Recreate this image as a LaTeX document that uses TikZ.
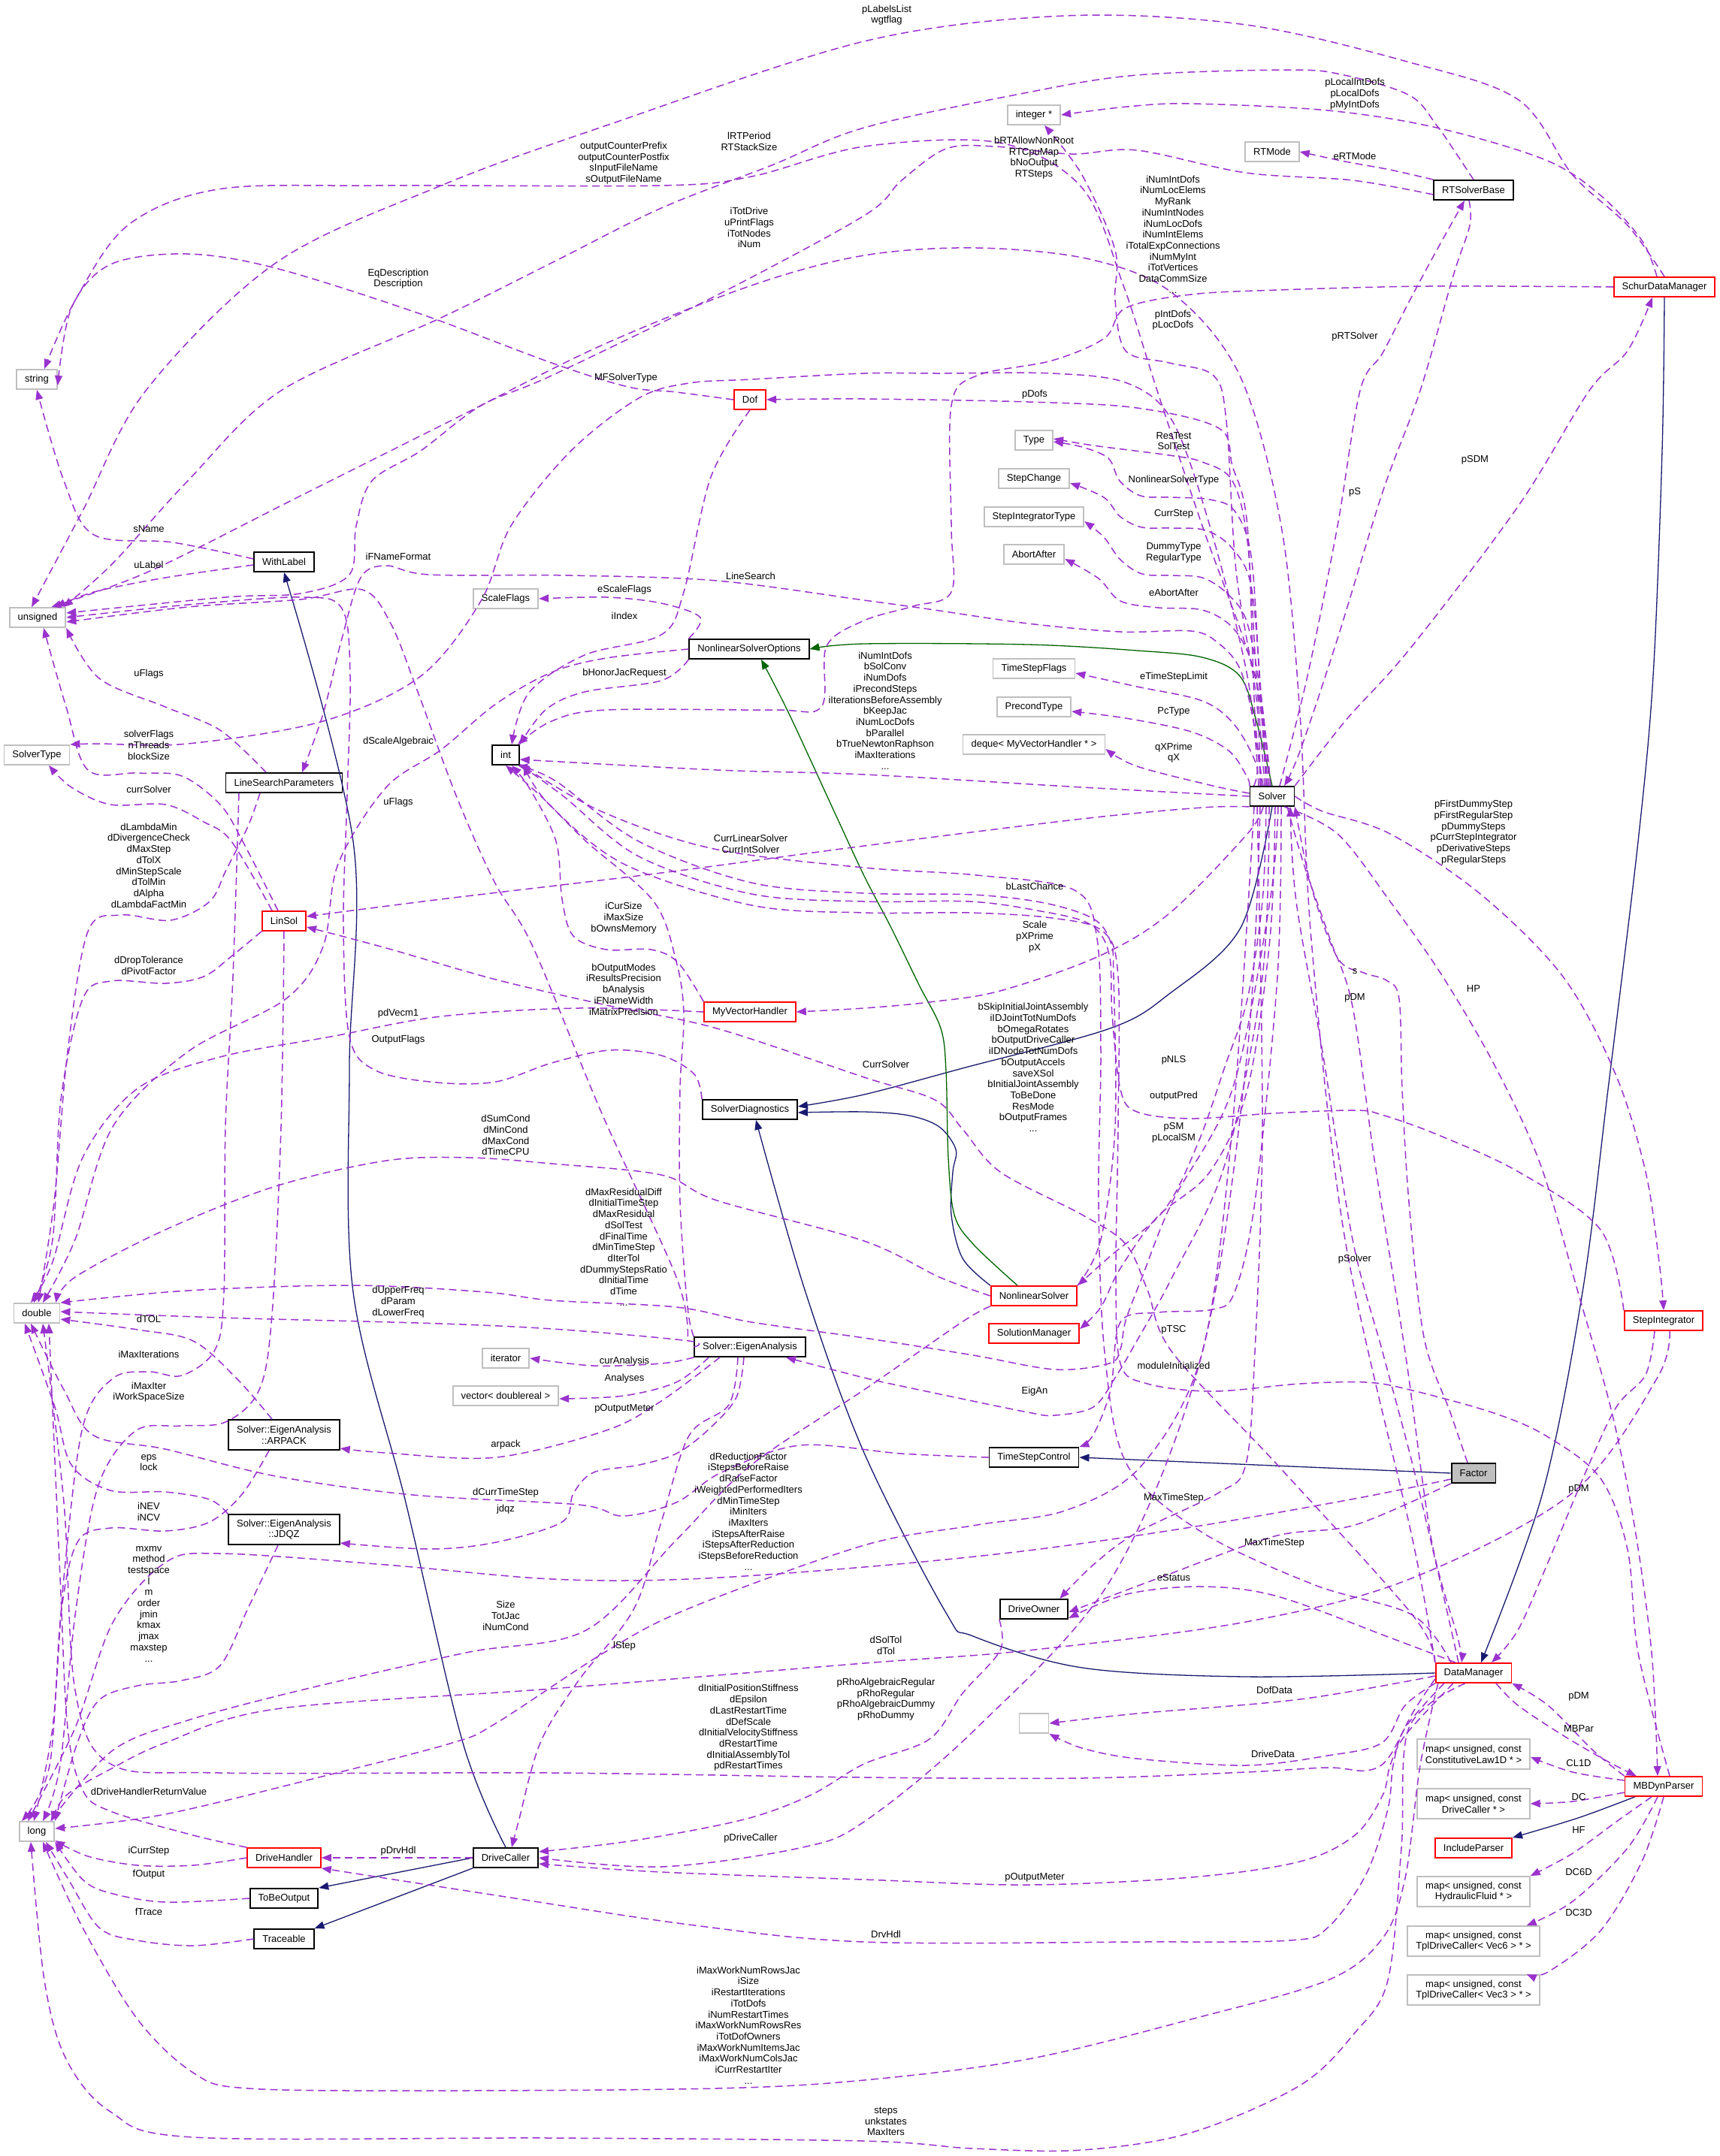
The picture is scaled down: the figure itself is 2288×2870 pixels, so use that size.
\documentclass[tikz,border=0pt]{standalone}
\usepackage{fontspec}
\setmainfont{Liberation Sans}
\usetikzlibrary{arrows.meta}
\definecolor{edgep}{HTML}{9A32CD}
\definecolor{navyc}{HTML}{191970}
\definecolor{dgreen}{HTML}{006400}
\definecolor{greyc}{HTML}{BFBFBF}
\newcommand\nodefont{\fontsize{6.5}{7.35}\selectfont}
\newcommand\dedge[1]{\draw[dep] plot[smooth,tension=0.55] coordinates {#1};}
\newcommand\iedge[2]{\draw[#1] plot[smooth,tension=0.55] coordinates {#2};}
\tikzset{
 base/.style={draw, rectangle, font=\nodefont, align=center, inner xsep=5.5pt, inner ysep=1.5pt, minimum height=13pt, line width=0.9pt},
 gbox/.style={base, draw=greyc},
 bbox/.style={base, draw=black},
 rbox/.style={base, draw=red},
 tall/.style={minimum height=20pt},
 lbl/.style={font=\nodefont, align=center, inner sep=0pt},
 dep/.style={draw=edgep, line width=0.75pt, dash pattern=on 5pt off 3pt, -{Triangle[length=6.5pt,width=5pt]}},
 inh/.style={draw=navyc, line width=0.65pt, -{Triangle[length=6.5pt,width=5pt]}},
 inhg/.style={draw=dgreen, line width=0.65pt, -{Triangle[length=6.5pt,width=5pt]}},
}
\begin{document}
\begin{tikzpicture}[x=0.5pt,y=-0.5pt]
\fill[white] (0,0) rectangle (2288,2870);
\useasboundingbox (0,0) rectangle (2288,2870);
% ---------------- nodes ----------------
\node[gbox] (string) at (49,505) {string};
\node[gbox] (unsigned) at (50,822) {unsigned};
\node[gbox] (SolverType) at (49,1005) {SolverType};
\node[gbox] (double) at (49,1748) {double};
\node[gbox] (long) at (49,2438) {long};
\node[bbox] (WithLabel) at (378,748) {WithLabel};
\node[bbox] (LSP) at (378,1042) {LineSearchParameters};
\node[rbox] (LinSol) at (378,1226) {LinSol};
\node[bbox,tall] (ARPACK) at (378,1910) {Solver::EigenAnalysis\\::ARPACK};
\node[bbox,tall] (JDQZ) at (378,2036) {Solver::EigenAnalysis\\::JDQZ};
\node[rbox] (DriveHandler) at (378,2473) {DriveHandler};
\node[bbox] (ToBeOutput) at (378,2527) {ToBeOutput};
\node[bbox] (Traceable) at (378,2581) {Traceable};
\node[gbox] (ScaleFlags) at (673,797) {ScaleFlags};
\node[bbox] (int) at (673,1005) {int};
\node[gbox] (iterator) at (673,1808) {iterator};
\node[gbox] (vector) at (673,1858) {vector< doublereal >};
\node[bbox] (DriveCaller) at (673,2473) {DriveCaller};
\node[rbox] (Dof) at (998,532) {Dof};
\node[bbox] (NSO) at (997,864) {NonlinearSolverOptions};
\node[rbox] (MVH) at (998,1347) {MyVectorHandler};
\node[bbox] (SD) at (998,1477) {SolverDiagnostics};
\node[bbox] (EA) at (998,1793) {Solver::EigenAnalysis};
\node[gbox] (integerptr) at (1376,153) {integer *};
\node[gbox] (RTMode) at (1693,202) {RTMode};
\node[bbox] (RTSB) at (1961,253) {RTSolverBase};
\node[rbox] (SDM) at (2215,382) {SchurDataManager};
\node[gbox] (Type) at (1376,586) {Type};
\node[gbox] (StepChange) at (1376,637) {StepChange};
\node[gbox] (SIT) at (1376,688) {StepIntegratorType};
\node[gbox] (AbortAfter) at (1376,738) {AbortAfter};
\node[gbox] (TSF) at (1376,890) {TimeStepFlags};
\node[gbox] (PrecondType) at (1376,941) {PrecondType};
\node[gbox] (deque) at (1376,991) {deque< MyVectorHandler * >};
\node[bbox] (Solver) at (1693,1060) {Solver};
\node[rbox] (NLS) at (1376,1725) {NonlinearSolver};
\node[rbox] (SM) at (1376,1775) {SolutionManager};
\node[bbox] (TSC) at (1376,1940) {TimeStepControl};
\node[bbox] (DO) at (1376,2142) {DriveOwner};
\node[gbox, minimum width=19.5pt] (empty) at (1376,2294) {};
\node[bbox, fill=greyc] (Factor) at (1961,1961) {Factor};
\node[rbox] (SI) at (2214,1758) {StepIntegrator};
\node[rbox] (DM) at (1961,2227) {DataManager};
\node[gbox,tall] (mapCL) at (1961,2335) {map< unsigned, const\\ConstitutiveLaw1D * >};
\node[gbox,tall] (mapDC) at (1961,2401) {map< unsigned, const\\DriveCaller * >};
\node[rbox] (IP) at (1961,2460) {IncludeParser};
\node[gbox,tall] (mapHF) at (1961,2518) {map< unsigned, const\\HydraulicFluid * >};
\node[gbox,tall] (mapV6) at (1961,2584) {map< unsigned, const\\TplDriveCaller< Vec6 > * >};
\node[gbox,tall] (mapV3) at (1961,2649) {map< unsigned, const\\TplDriveCaller< Vec3 > * >};
\node[rbox] (MBP) at (2214,2378) {MBDynParser};
% ---------------- inheritance ----------------
\iedge{inh}{(DriveCaller.north) (616,2320) (540,2000) (470,1720) (465,1420) (470,1120) (WithLabel.south)}
\draw[inh] (DriveCaller.west) -- (ToBeOutput.north east);
\draw[inh] (DriveCaller.south west) -- (Traceable.north east);
\iedge{inh}{(Solver.south) (1651,1235) (1556,1323) (1477,1369) (1281,1422) (1150,1457) ([yshift=2pt]SD.east)}
\iedge{inh}{(NLS.north west) (1281,1675) (1266,1617) (1268,1560) (1272,1530) (1250,1500) (1210,1485) (1150,1480) ([yshift=-2pt]SD.east)}
\iedge{inh}{(DM.west) (1658,2232) (1440,2220) (1295,2178) (1259,2147) (1150,1934) (1071,1717) ([xshift=4pt]SD.south)}
\iedge{inhg}{(Solver.north) (1672,960) (1650,900) (1600,875) (1513,866) (1368,858) (1150,857) (NSO.east)}
\iedge{inhg}{([xshift=-11pt]NLS.north) (1295,1656) (1270,1617) (1262,1541) (1259,1426) (1252,1369) (1223,1311) (1186,1235) (1150,1166) (1110,1080) (1050,950) ([xshift=8pt]NSO.south)}
\draw[inh] (Factor.west) -- (TSC.east);
\iedge{inh}{(SDM.south) (2212,600) (2200,900) (2180,1120) (2140,1450) (2106,1720) (2053,1987) ([xshift=5pt]DM.north)}
\iedge{inh}{([xshift=7pt]MBP.south west) (2100,2420) (IP.north east)}
% ---------------- dependencies ----------------
\dedge{([yshift=2pt]WithLabel.west) (230,722) (125,712) (85,640) (string.south)}
\dedge{([yshift=-2pt]WithLabel.west) (220,769) (125,788) ([xshift=-7pt]unsigned.north east)}
\dedge{(Dof.west) (900,522) (836,515) (734,483) (557,417) (367,357) (249,338) (147,352) (95,410) ([yshift=-4pt]string.east)}
\dedge{([xshift=-4pt]Solver.north) (1670,900) (1600,700) (1540,520) (1495,380) (1440,250) (1330,190) (1150,195) (1000,235) (880,247) (500,247) (290,252) (170,300) (100,400) ([xshift=5pt]string.north)}
\dedge{(SDM.north) (2166,300) (2093,233) (2021,133) (1876,83) (1658,33) (1418,21) (1150,55) (807,167) (587,247) (367,350) (194,520) (110,680) ([xshift=-4pt]unsigned.north)}
\dedge{([xshift=-5pt]SDM.north) (2185,320) (2130,260) (2057,213) (1912,170) (1767,147) (1585,138) (1500,142) (integerptr.east)}
\dedge{([xshift=-8pt]Solver.north) (1672,930) (1645,760) (1632,560) (1615,500) (1556,483) (1498,467) (1484,400) (1484,333) (1440,233) ([xshift=7pt]integerptr.south)}
\dedge{(RTSB.north west) (1850,226) (1790,215) (RTMode.east)}
\dedge{(RTSB.north) (1935,200) (1912,167) (1876,127) (1789,100) (1716,93) (1513,100) (1368,123) (1150,170) (1027,220) (880,277) (734,350) (587,423) (374,520) (250,640) (150,750) ([xshift=-2pt]unsigned.north east)}
\dedge{([yshift=-3pt]RTSB.west) (1800,240) (1658,230) (1513,200) (1426,205) (1324,195) (1259,198) (1200,240) (1150,287) (954,393) (734,500) (640,540) (560,600) (495,640) (474,700) (465,765) (400,790) (300,795) ([yshift=3pt]unsigned.east)}
\dedge{(DM.north west) (1880,2050) (1790,1650) (1745,1250) (1730,950) (1705,700) (1650,500) (1560,390) (1450,345) (1300,330) (1150,340) (1000,380) (800,460) (600,560) (400,660) (200,760) ([xshift=-10pt]unsigned.north east)}
\dedge{(SDM.west) (1900,381) (1701,386) (1585,392) (1498,410) (1470,450) (1400,480) (1300,500) (1266,540) (1266,700) (1266,788) (1215,807) (1150,826) (1100,860) (1093,941) (1027,945) (807,945) (734,960) ([xshift=8pt]int.north)}
\dedge{(Solver.west) (1440,1048) (1150,1031) (954,1025) ([yshift=-3pt]int.east)}
\dedge{([xshift=5pt]Solver.north) (1740,900) (1780,700) (1810,520) (1840,470) (1876,400) (1912,333) ([xshift=-6pt]RTSB.south)}
\dedge{([xshift=-3pt]RTSB.south) (1956,300) (1934,367) (1890,520) (1840,655) (1780,850) (1730,1000) ([xshift=8pt]Solver.north)}
\dedge{(Solver.north east) (1790,960) (1876,864) (2021,673) (2115,520) (2166,467) ([xshift=-8pt]SDM.south)}
\dedge{([xshift=-6pt]Solver.north) (1670,950) (1660,700) (1640,620) (1622,570) (1513,543) (1368,535) (1150,531) (Dof.east)}
\dedge{([xshift=-5pt]Solver.north) (1672,900) (1660,720) (1640,640) (1600,615) (1556,606) (1455,593) ([yshift=1pt]Type.east)}
\dedge{([xshift=-4pt]Solver.north) (1676,900) (1665,740) (1643,680) (1610,665) (1560,662) (1518,660) (1490,640) (1475,610) (1440,595) ([yshift=-1pt]Type.east)}
\dedge{([xshift=-3pt]Solver.north) (1678,920) (1665,780) (1640,730) (1605,706) (1560,703) (1520,702) (1491,688) (1469,662) ([yshift=-3pt]StepChange.east)}
\dedge{([xshift=-2pt]Solver.north) (1680,940) (1660,830) (1633,790) (1600,769) (1560,766) (1520,764) (1491,745) (1469,715) ([yshift=-3pt]SIT.east)}
\dedge{([xshift=-1pt]Solver.north) (1682,960) (1665,880) (1640,835) (1600,812) (1542,809) (1491,800) (1462,770) ([yshift=-3pt]AbortAfter.east)}
\dedge{([xshift=-7pt]Solver.north) (1668,960) (1650,890) (1620,855) (1585,840) (1491,841) (1368,830) (1237,811) (1150,799) (954,773) (760,766) (572,765) (514,753) (480,769) (455,850) (430,950) ([xshift=12pt]LSP.north)}
\dedge{([xshift=3pt]Solver.north west) (1672,1018) (1643,965) (1600,933) (1513,914) ([yshift=-3pt]TSF.east)}
\dedge{(Solver.north west) (1660,1035) (1636,1000) (1585,974) (1498,956) ([yshift=-3pt]PrecondType.east)}
\dedge{([yshift=2pt]Solver.west) (1614,1046) (1513,1020) ([yshift=-3pt]deque.east)}
\dedge{(Solver.south west) (1600,1075) (1440,1090) (1150,1126) (880,1162) (587,1197) ([yshift=3pt]LinSol.east)}
\dedge{([xshift=-6pt]Solver.south) (1660,1110) (1556,1216) (1462,1273) (1331,1319) (1237,1334) (1150,1342) (MVH.east)}
\dedge{(NLS.north east) (1465,1650) (1484,1500) (1482,1300) (1478,1254) (1455,1223) (1390,1202) (1295,1191) (1150,1189) (1000,1175) (850,1120) (740,1040) ([xshift=8pt]int.south)}
\dedge{(MVH.north west) (902,1281) (866,1264) (807,1264) (763,1246) (748,1197) (740,1120) (705,1050) ([xshift=4pt]int.south)}
\dedge{(EA.north west) (915,1740) (905,1600) (905,1450) (910,1350) (900,1280) (870,1200) (780,1120) (720,1060) (int.south)}
\dedge{([xshift=-4pt]EA.north west) (900,1700) (800,1480) (709,1260) (658,1174) (607,1059) (556,921) (520,830) (482,785) (400,798) (250,808) ([yshift=-3pt]unsigned.east)}
\dedge{([xshift=-12pt]LSP.north) (293,972) (220,941) (132,903) (unsigned.south east)}
\dedge{([xshift=-4pt]LinSol.north) (323,1120) (293,1071) (242,1033) (183,1029) (117,1025) (88,941) ([xshift=4pt]unsigned.south)}
\dedge{([xshift=-8pt]LinSol.north) (308,1120) (271,1094) (220,1071) (147,1071) (95,1048) ([xshift=8pt]SolverType.south)}
\dedge{([xshift=-9pt]Solver.north) (1660,900) (1610,700) (1560,560) (1500,510) (1400,497) (1250,497) (1150,497) (1000,505) (917,510) (850,530) (760,600) (680,700) (640,800) (560,900) (430,960) (250,990) (130,990) (SolverType.north east)}
\dedge{(Dof.south) (946,635) (910,788) (880,845) (778,872) (704,922) ([xshift=4pt]int.north)}
\dedge{(NSO.north west) (932,822) (880,803) (807,795) (ScaleFlags.east)}
\dedge{(NSO.south west) (880,906) (778,921) (726,945) (int.north east)}
\dedge{(NSO.west) (807,876) (734,895) (660,937) (587,998) (514,1048) (450,1150) (430,1260) (380,1330) (250,1400) (150,1500) (100,1650) ([xshift=4pt]double.north)}
\dedge{([xshift=-16pt]LSP.south) (330,1100) (301,1158) (279,1200) (227,1225) (161,1218) (117,1240) (90,1400) (72,1600) ([xshift=1pt]double.north)}
\dedge{(LinSol.south west) (308,1273) (271,1300) (220,1309) (147,1306) (110,1330) (81,1464) (70,1650) ([xshift=-2pt]double.north)}
\dedge{(LinSol.south) (374,1500) (362,1750) (345,1850) (300,1893) (240,1898) (180,1905) (130,1980) (100,2150) (80,2350) ([xshift=4pt]long.north)}
\dedge{([xshift=-30pt]LSP.south) (310,1300) (300,1500) (298,1720) (286,1797) (242,1831) (198,1826) (150,1835) (110,1900) (85,2100) (70,2300) ([xshift=-2pt]long.north)}
\dedge{(EA.west) (917,1785) (750,1770) (587,1762) (293,1754) ([yshift=1pt]double.east)}
\dedge{([xshift=-8pt]ARPACK.north) (315,1835) (257,1785) (183,1770) ([yshift=-4pt]double.east)}
\dedge{([xshift=4pt]Solver.south) (1690,1200) (1640,1450) (1560,1600) (1520,1700) (1498,1758) (1491,1796) (1476,1815) (1404,1823) (1295,1804) (1150,1781) (1000,1760) (900,1740) (734,1731) (646,1720) (470,1711) (250,1718) (double.north east)}
\dedge{([xshift=-2pt]Solver.south) (1680,1300) (1630,1550) (1560,1700) (1510,1790) (1484,1834) (1455,1873) (1404,1884) (1368,1880) (1223,1850) (1150,1834) ([xshift=24pt]EA.south)}
\dedge{(NLS.west) (1250,1700) (1150,1652) (954,1598) (880,1564) (734,1549) (624,1541) (514,1545) (367,1579) (220,1637) (100,1700) ([xshift=-3pt]double.north east)}
\dedge{(MVH.west) (770,1342) (587,1353) (440,1380) (293,1407) (183,1449) (110,1541) (70,1680) ([xshift=-4pt]double.north)}
\dedge{(SD.north west) (924,1430) (880,1405) (811,1398) (734,1415) (660,1440) (582,1441) (500,1425) (465,1380) (457,1231) (462,1059) (466,900) (455,810) (400,795) (250,805) (unsigned.east)}
\dedge{(DM.north west) (1880,2150) (1700,1950) (1560,1800) (1527,1717) (1498,1656) (1440,1617) (1331,1560) (1281,1503) (1244,1464) (1150,1434) (954,1369) (807,1338) (660,1304) (514,1262) ([yshift=-4pt]LinSol.east)}
\dedge{([xshift=-15pt]DM.north) (1880,2150) (1750,2110) (1600,2040) (1500,1950) (1470,1800) (1462,1600) (1465,1400) (1460,1250) (1430,1185) (1300,1165) (1150,1155) (950,1130) (800,1080) ([yshift=-6pt]int.east)}
\dedge{([xshift=-4pt]Solver.south) (1680,1200) (1660,1330) (1630,1420) (1595,1520) (1550,1610) (1480,1670) (NLS.north east)}
\dedge{(SI.north west) (2130,1637) (2021,1560) (1912,1510) (1839,1484) (1803,1478) (1694,1482) (1585,1489) (1513,1480) (1491,1450) (1480,1350) (1476,1270) (1450,1230) (1380,1212) (1290,1200) (1150,1200) (1000,1190) (850,1140) (750,1060) ([xshift=10pt]int.south)}
\dedge{([xshift=2pt]Solver.south) (1690,1250) (1660,1450) (1610,1560) (1540,1620) (1490,1690) (1465,1740) ([yshift=3pt]SM.east)}
\dedge{([xshift=6pt]Solver.south) (1700,1300) (1670,1600) (1643,1720) (1614,1743) (1542,1747) (1491,1760) (1478,1850) (1455,1910) (TSC.north east)}
\dedge{([xshift=4pt]MBP.north) (2180,2200) (2166,2063) (2130,1968) (2057,1911) (1985,1880) (1876,1850) (1818,1840) (1730,1842) (1614,1852) (1527,1842) (1491,1815) (1485,1700) (1488,1500) (1488,1300) (1468,1240) (1400,1222) (1290,1215) (1150,1215) (1000,1205) (830,1150) (730,1070) ([xshift=12pt]int.south)}
\dedge{([xshift=8pt]Solver.south) (1780,1110) (1850,1200) (1920,1300) (1990,1420) (2050,1550) (2100,1720) (2145,1880) (2175,2030) (2198,2200) ([xshift=-4pt]MBP.north)}
\dedge{(Solver.east) (1760,1080) (1850,1110) (1970,1190) (2080,1300) (2150,1430) (2190,1560) (2208,1680) (SI.north)}
\dedge{([xshift=-4pt]Factor.north) (1930,1880) (1895,1780) (1875,1600) (1866,1450) (1862,1330) (1845,1305) (1815,1295) (1780,1275) (1745,1180) (Solver.south east)}
\dedge{([xshift=10pt]Solver.south) (1735,1150) (1770,1250) (1800,1340) (1830,1550) (1870,1800) (1905,2050) (1940,2180) ([xshift=-8pt]DM.north)}
\dedge{([xshift=-10pt]DM.north) (1920,2120) (1880,1950) (1840,1800) (1800,1650) (1760,1400) (1725,1200) ([xshift=12pt]Solver.south)}
\dedge{([xshift=-6pt]SI.south) (2190,1830) (2151,1873) (2110,1960) (2060,2080) (2020,2170) ([xshift=12pt]DM.north)}
\dedge{([xshift=4pt]SI.south) (2205,1835) (2093,1987) (1876,2102) (1658,2159) (1368,2197) (1150,2214) (734,2248) (367,2275) (220,2320) (147,2355) (88,2390) ([xshift=10pt]long.north)}
\dedge{(MBP.north west) (2120,2330) (2060,2270) (DM.south east)}
\dedge{([xshift=15pt]DM.south) (2020,2270) (2080,2310) (2140,2345) ([xshift=8pt]MBP.north west)}
\dedge{([yshift=4pt]MBP.west) (2093,2359) ([yshift=-2pt]mapCL.east)}
\dedge{([yshift=-4pt]MBP.west) (2093,2398) (mapDC.east)}
\dedge{([xshift=-8pt]MBP.south) (2151,2425) (2093,2467) (mapHF.north east)}
\dedge{([xshift=-4pt]MBP.south) (2166,2460) (2093,2531) ([xshift=-9pt]mapV6.north east)}
\dedge{(MBP.south) (2185,2478) (2130,2570) (2060,2625) ([xshift=-9pt]mapV3.north east)}
\dedge{([yshift=-2pt]DM.west) (1730,2262) (1513,2281) (empty.east)}
\dedge{(DM.south west) (1870,2270) (1839,2320) (1767,2337) (1658,2350) (1513,2341) (1440,2327) (empty.south east)}
\dedge{([xshift=6pt]DM.south west) (1870,2300) (1854,2350) (1847,2408) (1818,2495) (1767,2566) (1716,2583) (1513,2585) (1150,2585) (917,2562) (660,2523) (DriveHandler.south east)}
\dedge{([xshift=12pt]DM.south west) (1870,2310) (1850,2350) (1840,2390) (1803,2443) (1730,2478) (1585,2499) (1368,2509) (1150,2502) (880,2492) ([yshift=-4pt]DriveCaller.east)}
\dedge{([yshift=-4pt]DM.west) (1880,2280) (1847,2341) (1818,2357) (1767,2353) (1658,2359) (1440,2367) (1150,2366) (734,2360) (293,2360) (147,2348) (100,2250) (85,2000) ([xshift=4pt]double.south)}
\dedge{([xshift=2pt]DM.south west) (1890,2350) (1870,2500) (1840,2580) (1767,2636) (1585,2688) (1368,2741) (1150,2769) (954,2780) (587,2783) (330,2780) (257,2759) (183,2688) (110,2566) ([xshift=4pt]long.south)}
\dedge{([xshift=20pt]DM.south west) (1875,2300) (1865,2460) (1847,2636) (1803,2706) (1730,2776) (1585,2839) (1440,2862) (1295,2860) (1150,2850) (734,2846) (257,2845) (147,2811) (88,2741) (59,2636) ([xshift=-4pt]long.south)}
\dedge{(DO.south west) (1331,2197) (1281,2254) (1237,2315) (1150,2348) (1078,2390) (990,2422) (844,2450) ([yshift=4pt]DriveCaller.east)}
\dedge{([xshift=-8pt]Solver.south) (1660,1400) (1600,1800) (1480,2100) (1300,2300) (1150,2425) (1064,2460) (880,2485) (DriveCaller.east)}
\dedge{([xshift=-8pt]EA.south) (970,1870) (917,1911) (880,2026) (844,2141) (770,2237) (719,2320) (690,2425) ([xshift=4pt]DriveCaller.north)}
\dedge{(EA.south west) (880,1815) (790,1818) (iterator.east)}
\dedge{([xshift=10pt]EA.south west) (900,1840) (830,1858) ([yshift=-2pt]vector.east)}
\dedge{([xshift=-20pt]EA.south) (880,1865) (807,1904) (660,1940) (514,1934) ([yshift=-9pt]ARPACK.east)}
\dedge{([xshift=-4pt]EA.south) (980,1860) (946,1900) (902,1934) (851,1950) (790,1960) (763,1988) (748,2026) (660,2053) (572,2062) ([yshift=-9pt]JDQZ.east)}
\dedge{(TSC.west) (1200,1935) (1064,1924) (960,1960) (900,2000) (829,2018) (770,2003) (550,1990) (367,1965) (220,1929) (125,1911) (85,1850) ([xshift=-4pt]double.south)}
\dedge{([yshift=-4pt]Factor.west) (1803,1995) (1585,2033) (1368,2064) (1150,2086) (917,2102) (734,2102) (514,2083) (294,2068) (220,2080) (150,2160) (100,2300) ([xshift=-6pt]long.north)}
\dedge{([xshift=-4pt]JDQZ.south) (330,2141) (293,2217) (242,2237) (183,2244) (132,2263) (103,2320) (long.north east)}
\dedge{(JDQZ.north west) (279,1996) (220,1986) (147,1984) (95,1950) (73,1873) ([xshift=-8pt]double.south)}
\dedge{([xshift=-10pt]ARPACK.south) (323,1988) (279,2026) (220,2038) (147,2034) (103,2053) (81,2150) (66,2350) ([xshift=-10pt]long.north)}
\dedge{(DriveHandler.north west) (257,2443) (147,2411) (110,2383) (90,2300) (80,2100) ([xshift=8pt]double.south)}
\dedge{(DriveHandler.west) (257,2483) (183,2483) (117,2471) ([yshift=-6pt]long.east)}
\dedge{(ToBeOutput.west) (220,2532) (147,2520) (110,2502) (long.south east)}
\dedge{(Traceable.west) (257,2590) (183,2583) (132,2566) (90,2500) ([xshift=6pt]long.south)}
\draw[dep] (DriveCaller.west) -- (DriveHandler.east);
\dedge{(NLS.south west) (1280,1760) (1150,1850) (1000,1950) (900,2050) (780,2170) (620,2200) (400,2250) (250,2290) (150,2330) ([xshift=-3pt]long.north east)}
\dedge{([xshift=-12pt]Solver.south) (1640,1500) (1600,1800) (1520,1950) (1420,2010) (1300,2030) (1150,2057) (917,2141) (807,2198) (660,2294) (602,2320) (440,2362) (220,2415) ([yshift=2pt]long.east)}
\dedge{([xshift=-10pt]Solver.south) (1680,1500) (1670,1800) (1658,1949) (1622,1987) (1513,2040) (1455,2083) ([xshift=-6pt]DO.north east)}
\dedge{(Factor.south west) (1803,2030) (1696,2045) (1549,2098) ([yshift=-2pt]DO.east)}
\dedge{([xshift=-12pt]DM.north) (1850,2180) (1700,2125) (1600,2112) (1500,2122) ([yshift=-6pt]DO.east)}
% ---------------- labels ----------------
\node[lbl] (L01) at (1180,20) {pLabelsList\\wgtflag};
\node[lbl] (L02) at (830,217) {outputCounterPrefix\\outputCounterPostfix\\sInputFileName\\sOutputFileName};
\node[lbl] (L03) at (997,188) {lRTPeriod\\RTStackSize};
\node[lbl] (L04) at (997,303) {iTotDrive\\uPrintFlags\\iTotNodes\\iNum};
\node[lbl] (L05) at (530,371) {EqDescription\\Description};
\node[lbl] (L06) at (833,503) {MFSolverType};
\node[lbl] (L07) at (1803,125) {pLocalIntDofs\\pLocalDofs\\pMyIntDofs};
\node[lbl] (L08) at (1376,210) {bRTAllowNonRoot\\RTCpuMap\\bNoOutput\\RTSteps};
\node[lbl] (L09) at (1803,208) {eRTMode};
\node[lbl] (L10) at (1561,312) {iNumIntDofs\\iNumLocElems\\MyRank\\iNumIntNodes\\iNumLocDofs\\iNumIntElems\\iTotalExpConnections\\iNumMyInt\\iTotVertices\\DataCommSize\\...};
\node[lbl] (L11) at (1561,426) {pIntDofs\\pLocDofs};
\node[lbl] (L12) at (1803,448) {pRTSolver};
\node[lbl] (L13) at (1377,525) {pDofs};
\node[lbl] (L14) at (1562,587) {ResTest\\SolTest};
\node[lbl] (L15) at (1963,612) {pSDM};
\node[lbl] (L16) at (1562,639) {NonlinearSolverType};
\node[lbl] (L17) at (1803,655) {pS};
\node[lbl] (L18) at (1562,684) {CurrStep};
\node[lbl] (L19) at (1562,736) {DummyType\\RegularType};
\node[lbl] (L20) at (1562,789) {eAbortAfter};
\node[lbl] (L21) at (1562,901) {eTimeStepLimit};
\node[lbl] (L22) at (1562,947) {PcType};
\node[lbl] (L23) at (1562,1002) {qXPrime\\qX};
\node[lbl] (L24) at (1178,946) {iNumIntDofs\\bSolConv\\iNumDofs\\iPrecondSteps\\iIterationsBeforeAssembly\\bKeepJac\\iNumLocDofs\\bParallel\\bTrueNewtonRaphson\\iMaxIterations\\...};
\node[lbl] (L25) at (1961,1108) {pFirstDummyStep\\pFirstRegularStep\\pDummySteps\\pCurrStepIntegrator\\pDerivativeSteps\\pRegularSteps};
\node[lbl] (L26) at (198,704) {sName};
\node[lbl] (L27) at (198,752) {uLabel};
\node[lbl] (L28) at (530,741) {iFNameFormat};
\node[lbl] (L29) at (999,767) {LineSearch};
\node[lbl] (L30) at (831,785) {eScaleFlags};
\node[lbl] (L31) at (831,820) {iIndex};
\node[lbl] (L32) at (198,897) {uFlags};
\node[lbl] (L33) at (831,896) {bHonorJacRequest};
\node[lbl] (L34) at (198,992) {solverFlags\\nThreads\\blockSize};
\node[lbl] (L35) at (530,987) {dScaleAlgebraic};
\node[lbl] (L36) at (198,1051) {currSolver};
\node[lbl] (L37) at (530,1068) {uFlags};
\node[lbl] (L38) at (198,1152) {dLambdaMin\\dDivergenceCheck\\dMaxStep\\dTolX\\dMinStepScale\\dTolMin\\dAlpha\\dLambdaFactMin};
\node[lbl] (L39) at (999,1123) {CurrLinearSolver\\CurrIntSolver};
\node[lbl] (L40) at (830,1222) {iCurSize\\iMaxSize\\bOwnsMemory};
\node[lbl] (L41) at (198,1285) {dDropTolerance\\dPivotFactor};
\node[lbl] (L42) at (830,1317) {bOutputModes\\iResultsPrecision\\bAnalysis\\iFNameWidth\\iMatrixPrecision};
\node[lbl] (L43) at (530,1349) {pdVecm1};
\node[lbl] (L44) at (530,1384) {OutputFlags};
\node[lbl] (L45) at (673,1511) {dSumCond\\dMinCond\\dMaxCond\\dTimeCPU};
\node[lbl] (L46) at (830,1660) {dMaxResidualDiff\\dInitialTimeStep\\dMaxResidual\\dSolTest\\dFinalTime\\dMinTimeStep\\dIterTol\\dDummyStepsRatio\\dInitialTime\\dTime\\...};
\node[lbl] (L47) at (530,1733) {dUpperFreq\\dParam\\dLowerFreq};
\node[lbl] (L48) at (1377,1180) {bLastChance};
\node[lbl] (L49) at (1377,1247) {Scale\\pXPrime\\pX};
\node[lbl] (L50) at (1803,1293) {s};
\node[lbl] (L51) at (1961,1316) {HP};
\node[lbl] (L52) at (1803,1328) {pDM};
\node[lbl] (L53) at (1375,1421) {bSkipInitialJointAssembly\\iIDJointTotNumDofs\\bOmegaRotates\\bOutputDriveCaller\\iIDNodeTotNumDofs\\bOutputAccels\\saveXSol\\bInitialJointAssembly\\ToBeDone\\ResMode\\bOutputFrames\\...};
\node[lbl] (L54) at (1179,1417) {CurrSolver};
\node[lbl] (L55) at (1562,1411) {pNLS};
\node[lbl] (L56) at (1562,1459) {outputPred};
\node[lbl] (L57) at (1562,1508) {pSM\\pLocalSM};
\node[lbl] (L58) at (1803,1676) {pSolver};
\node[lbl] (L59) at (198,1756) {dTOL};
\node[lbl] (L60) at (198,1803) {iMaxIterations};
\node[lbl] (L61) at (831,1812) {curAnalysis};
\node[lbl] (L62) at (831,1835) {Analyses};
\node[lbl] (L63) at (198,1853) {iMaxIter\\iWorkSpaceSize};
\node[lbl] (L64) at (831,1875) {pOutputMeter};
\node[lbl] (L65) at (673,1923) {arpack};
\node[lbl] (L66) at (198,1947) {eps\\lock};
\node[lbl] (L67) at (673,1987) {dCurrTimeStep};
\node[lbl] (L68) at (673,2009) {jdqz};
\node[lbl] (L69) at (996,2012) {dReductionFactor\\iStepsBeforeRaise\\dRaiseFactor\\iWeightedPerformedIters\\dMinTimeStep\\iMinIters\\iMaxIters\\iStepsAfterRaise\\iStepsAfterReduction\\iStepsBeforeReduction\\...};
\node[lbl] (L70) at (198,2012) {iNEV\\iNCV};
\node[lbl] (L71) at (198,2135) {mxmv\\method\\testspace\\l\\m\\order\\jmin\\kmax\\jmax\\maxstep\\...};
\node[lbl] (L72) at (673,2151) {Size\\TotJac\\iNumCond};
\node[lbl] (L73) at (831,2191) {lStep};
\node[lbl] (L74) at (996,2300) {dInitialPositionStiffness\\dEpsilon\\dLastRestartTime\\dDefScale\\dInitialVelocityStiffness\\dRestartTime\\dInitialAssemblyTol\\pdRestartTimes};
\node[lbl] (L75) at (1179,2262) {pRhoAlgebraicRegular\\pRhoRegular\\pRhoAlgebraicDummy\\pRhoDummy};
\node[lbl] (L76) at (1562,1770) {pTSC};
\node[lbl] (L77) at (1562,1818) {moduleInitialized};
\node[lbl] (L78) at (1377,1852) {EigAn};
\node[lbl] (L79) at (2101,1982) {pDM};
\node[lbl] (L80) at (1562,1994) {MaxTimeStep};
\node[lbl] (L81) at (1696,2054) {MaxTimeStep};
\node[lbl] (L82) at (1562,2100) {eStatus};
\node[lbl] (L83) at (1179,2190) {dSolTol\\dTol};
\node[lbl] (L84) at (1696,2250) {DofData};
\node[lbl] (L85) at (2101,2258) {pDM};
\node[lbl] (L86) at (2101,2301) {MBPar};
\node[lbl] (L87) at (198,2385) {dDriveHandlerReturnValue};
\node[lbl] (L88) at (530,2464) {pDrvHdl};
\node[lbl] (L89) at (999,2447) {pDriveCaller};
\node[lbl] (L90) at (198,2464) {iCurrStep};
\node[lbl] (L91) at (198,2495) {fOutput};
\node[lbl] (L92) at (198,2545) {fTrace};
\node[lbl] (L93) at (996,2696) {iMaxWorkNumRowsJac\\iSize\\iRestartIterations\\iTotDofs\\iNumRestartTimes\\iMaxWorkNumRowsRes\\iTotDofOwners\\iMaxWorkNumItemsJac\\iMaxWorkNumColsJac\\iCurrRestartIter\\...};
\node[lbl] (L94) at (1694,2335) {DriveData};
\node[lbl] (L95) at (2101,2347) {CL1D};
\node[lbl] (L96) at (2101,2392) {DC};
\node[lbl] (L97) at (2101,2436) {HF};
\node[lbl] (L98) at (1377,2499) {pOutputMeter};
\node[lbl] (L99) at (2101,2492) {DC6D};
\node[lbl] (L100) at (2101,2546) {DC3D};
\node[lbl] (L101) at (1179,2575) {DrvHdl};
\node[lbl] (L102) at (1179,2824) {steps\\unkstates\\MaxIters};
\end{tikzpicture}
\end{document}
